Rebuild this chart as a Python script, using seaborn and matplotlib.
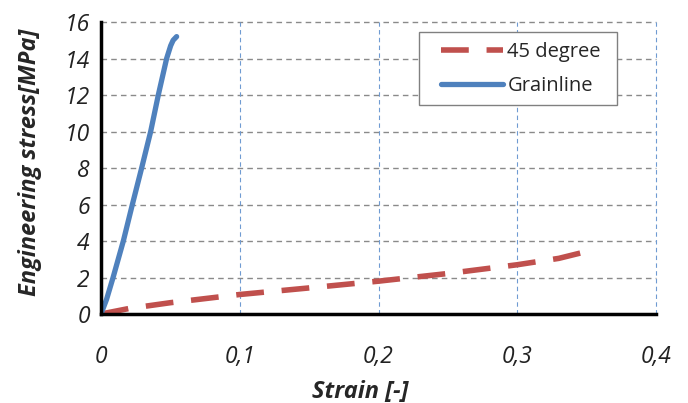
import numpy as np
import pandas as pd
import matplotlib
matplotlib.use("Agg")
import matplotlib.pyplot as plt
from matplotlib.patches import Rectangle
import seaborn as sns

sns.set_style("white")
plt.rcParams['font.family'] = ['Open Sans', 'DejaVu Sans']

# Data
strain_45 = [0.0, 0.02, 0.05, 0.10, 0.15, 0.20, 0.25, 0.30, 0.33, 0.355]
stress_45 = [0.0, 0.30, 0.62, 1.07, 1.43, 1.80, 2.22, 2.70, 3.05, 3.52]

strain_grain = [0.0, 0.004, 0.0087, 0.0161, 0.0226, 0.0293, 0.0358, 0.0413, 0.0473,
                0.0502, 0.052, 0.0545]
stress_grain = [0.0, 0.8, 2.0, 4.0, 6.0, 8.0, 10.0, 12.0, 14.0, 14.7, 15.0, 15.2]

x_ticks = [0, 0.1, 0.2, 0.3, 0.4]
x_labels = ['0', '0,1', '0,2', '0,3', '0,4']
y_ticks = list(range(0, 17, 2))

red = '#c0504d'
blue = '#4f81bd'

fig = plt.figure(figsize=(6.88, 4.03), dpi=100)
ax = fig.add_axes([0.1468, 0.2208, 0.8067, 0.7246])

# grid
for y in y_ticks[1:]:
    ax.axhline(y, color='#8a8a8a', lw=1.0, ls=(0, (4, 3)), zorder=0, clip_on=False)
for x in x_ticks[1:]:
    ax.axvline(x, color='#6f9bd2', lw=0.8, ls=(0, (4, 3)), zorder=0.5, clip_on=False)

sns.lineplot(x=strain_45, y=stress_45, ax=ax, color=red, lw=4, sort=False,
             label='45 degree', linestyle=(0, (5, 3.2)))
sns.lineplot(x=strain_grain, y=stress_grain, ax=ax, color=blue, lw=3.8, sort=False,
             label='Grainline')

ax.set_xlim(0, 0.4)
ax.set_ylim(0, 16)
ax.set_xticks(x_ticks)
ax.set_xticklabels(x_labels)
ax.set_yticks(y_ticks)

for s in ['top', 'right']:
    ax.spines[s].set_visible(False)
for s in ['left', 'bottom']:
    ax.spines[s].set_color('black')
    ax.spines[s].set_linewidth(2.5)
    ax.spines[s].set_zorder(3)

ax.tick_params(axis='both', direction='out', length=5, width=2.5, color='black',
               labelsize=16.5, labelcolor='#222222')
ax.tick_params(axis='x', pad=17)
ax.tick_params(axis='y', pad=3)
for lab in ax.get_xticklabels() + ax.get_yticklabels():
    lab.set_fontstyle('italic')

ax.set_xlabel('Strain [-]', fontsize=17, fontweight='bold', fontstyle='italic')
ax.xaxis.set_label_coords(0.467, -0.225)
ax.set_ylabel('Engineering stress[MPa]', fontsize=17, fontweight='bold', fontstyle='italic')
ax.yaxis.set_label_coords(-0.106, 0.52)

# legend: frameless, with a plain box behind it
ax.add_patch(Rectangle((419 / 688, 1 - 105 / 403), 198 / 688, 73 / 403,
                       transform=fig.transFigure, facecolor='white',
                       edgecolor='#808080', lw=1.0, zorder=4, clip_on=False))
leg = ax.legend(loc='center left', bbox_to_anchor=(441 / 688, 1 - 69 / 403),
                bbox_transform=fig.transFigure, fontsize=14.5, frameon=False,
                handlelength=3.1, borderpad=0, labelspacing=0.72, handletextpad=0.2,
                borderaxespad=0)
leg.set_zorder(5)

fig.savefig('out.png', dpi=100)
